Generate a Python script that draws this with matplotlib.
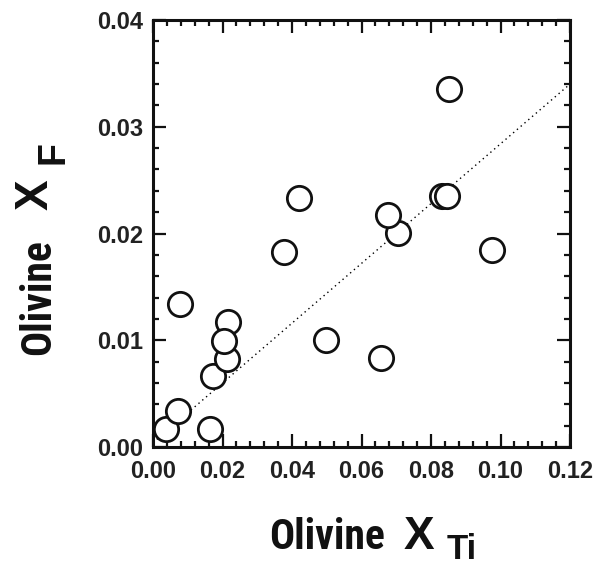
import numpy as np
import matplotlib
matplotlib.use("Agg")
import matplotlib.pyplot as plt
from matplotlib.ticker import MultipleLocator, FormatStrFormatter

plt.rcParams["font.family"] = ["Liberation Sans", "DejaVu Sans"]
plt.rcParams["font.weight"] = "bold"

# olivine compositions (mole fractions)
x_ti = [0.0037, 0.0164, 0.0071, 0.0078, 0.0174, 0.0212, 0.0217, 0.0205,
        0.0378, 0.0420, 0.0498, 0.0656, 0.0706, 0.0675, 0.0831, 0.0847,
        0.0853, 0.0976]
x_f = [0.00164, 0.00164, 0.00337, 0.01337, 0.00665, 0.00824, 0.01168, 0.00993,
       0.0183, 0.0233, 0.00998, 0.00831, 0.02005, 0.02176, 0.02351, 0.02351,
       0.03351, 0.01845]

# reference trend line
trend_x = [0.0, 0.12]
trend_y = [0.0004, 0.034]

W, H = 600, 565
fig = plt.figure(figsize=(W / 100, H / 100), dpi=100)
ax = fig.add_axes([153 / W, 1 - 447 / H, (570 - 153) / W, (447 - 20) / H])

ax.plot(trend_x, trend_y, color="black", lw=1.0, linestyle=(0, (1, 2.6)), zorder=1)
ax.plot(x_ti, x_f, linestyle="none", marker="o", ms=17.5, mfc="white",
        mec="#111111", mew=2.0, zorder=2)

ax.set_xlim(0, 0.12)
ax.set_ylim(0, 0.04)
ax.xaxis.set_major_locator(MultipleLocator(0.02))
ax.xaxis.set_minor_locator(MultipleLocator(0.004))
ax.yaxis.set_major_locator(MultipleLocator(0.01))
ax.yaxis.set_minor_locator(MultipleLocator(0.002))
ax.xaxis.set_major_formatter(FormatStrFormatter("%.2f"))
ax.yaxis.set_major_formatter(FormatStrFormatter("%.2f"))

ax.tick_params(which="both", direction="in", top=True, right=True, width=1.6,
               color="#111111")
ax.tick_params(which="major", length=9.5)
ax.tick_params(which="minor", length=4.5)
ax.tick_params(axis="x", which="major", pad=9, labelsize=17)
ax.tick_params(axis="y", which="major", pad=7, labelsize=17)
for lab in ax.get_xticklabels() + ax.get_yticklabels():
    lab.set_fontweight("bold")
    lab.set_color("#222222")
for sp in ax.spines.values():
    sp.set_linewidth(2.2)
    sp.set_color("#111111")

narrow = ["Roboto Condensed", "PT Sans Narrow", "Liberation Sans", "DejaVu Sans"]

def fx(px):
    return px / W

def fy(py):
    return 1 - py / H

# x axis title
fig.text(fx(327), fy(549), "Olivine", family=narrow, fontsize=30,
         fontweight="bold", ha="center", va="baseline", color="#111111")
fig.text(fx(419), fy(549), "X", fontsize=33, fontweight="bold",
         ha="center", va="baseline", color="#111111")
fig.text(fx(462), fy(559), "Ti", fontsize=25, fontweight="bold",
         ha="center", va="baseline", color="#111111")

# y axis title
fig.text(fx(50), fy(297), "Olivine", family=narrow, fontsize=30,
         fontweight="bold", ha="center", va="baseline", rotation=90,
         rotation_mode="anchor", color="#111111")
fig.text(fx(48), fy(195), "X", fontsize=33, fontweight="bold",
         ha="center", va="baseline", rotation=90, rotation_mode="anchor",
         color="#111111")
fig.text(fx(63), fy(153), "F", fontsize=27, fontweight="bold",
         ha="center", va="baseline", rotation=90, rotation_mode="anchor",
         color="#111111")

fig.savefig("out.png", dpi=100)
